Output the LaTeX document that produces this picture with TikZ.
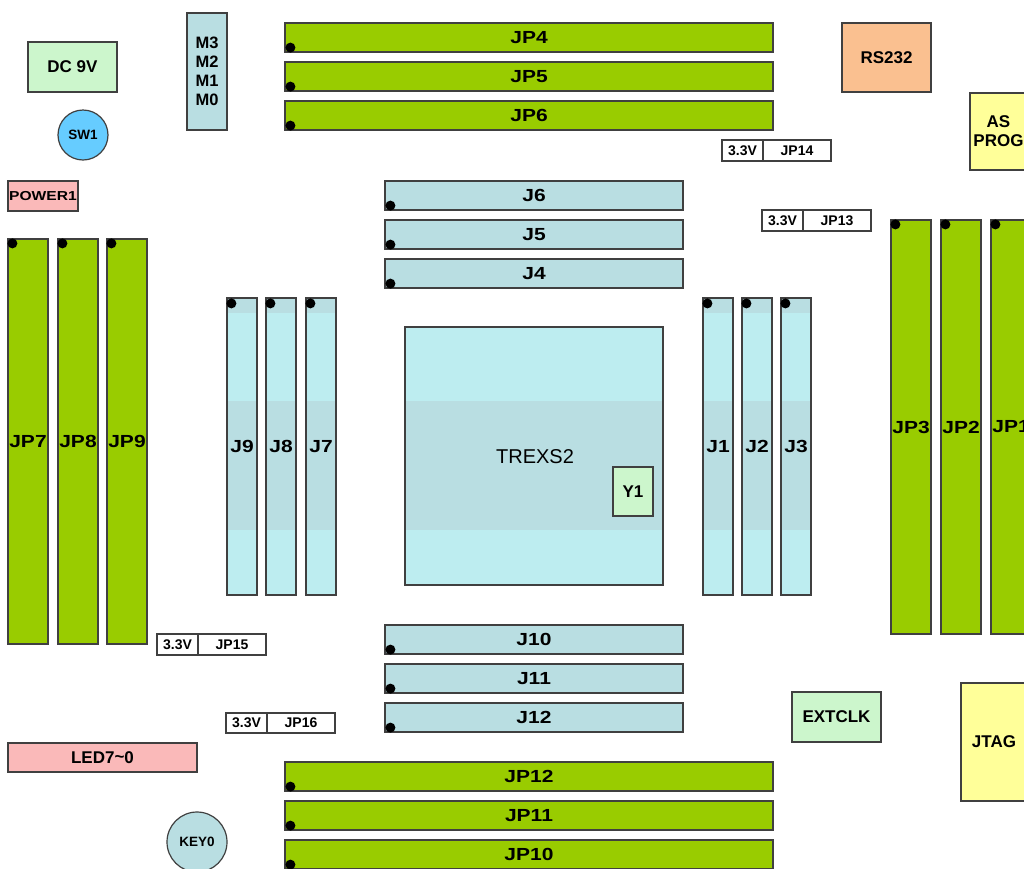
\documentclass[tikz,border=0pt]{standalone}
\usepackage{fontspec}
\setmainfont{Liberation Sans}
\newfontfamily\widesans[FakeStretch=1.2]{Liberation Sans}
\definecolor{bord}{RGB}{64,64,64}
\definecolor{pgreen}{RGB}{153,204,0}
\definecolor{jblue}{RGB}{185,222,226}
\definecolor{jcyan}{RGB}{189,237,240}
\definecolor{lgreen}{RGB}{204,246,204}
\definecolor{sky}{RGB}{102,204,255}
\definecolor{pinkc}{RGB}{250,185,185}
\definecolor{orangec}{RGB}{250,192,144}
\definecolor{yellowc}{RGB}{255,255,153}
\tikzset{
  base/.style={draw=bord, line width=1.2pt, inner sep=0pt, text=black,
    font=\bfseries\fontsize{17}{19}\selectfont, align=center},
  hdr/.style={base, font=\widesans\bfseries\fontsize{17.5}{19}\selectfont},
  gbar/.style={hdr, fill=pgreen},
  jbar/.style={hdr, fill=jblue},
  jvbar/.style={hdr},
  lgbox/.style={base, fill=lgreen},
  pinkbox/.style={base, fill=pinkc},
  yelbox/.style={base, fill=yellowc},
  orbox/.style={base, fill=orangec},
  vbox/.style={base, fill=white, font=\bfseries\fontsize{14}{16}\selectfont},
  circ/.style={base, circle, font=\bfseries\fontsize{13.5}{15}\selectfont},
  pin/.style={fill=black}
}
% name, style, x1, y1, x2, y2, text
\newcommand\partbox[7]{%
  \node[#2, minimum width={((#5)-(#3))*1pt}, minimum height={((#6)-(#4))*1pt}]
    (#1) at ({((#3)+(#5))/2},{((#4)+(#6))/2}) {#7};}
\begin{document}
\begin{tikzpicture}[x=1pt,y=-1pt]
\useasboundingbox (0,0) rectangle (1024,868);
\clip (0,0) rectangle (1024,868);
\fill[white] (0,0) rectangle (1024,868);

% top-left parts
\partbox{dc}{lgbox}{28}{42}{117}{92}{DC 9V}
\node[circ, fill=sky, minimum size=50pt] (sw1) at (83,135) {SW1};
\partbox{power}{pinkbox, font=\widesans\bfseries\fontsize{13}{14}\selectfont}{8}{181}{78}{211}{POWER1}
\partbox{mbox}{jbar, font=\bfseries\fontsize{16.5}{19}\selectfont}{187}{13}{227}{130}{M3\\M2\\M1\\M0}

% top green headers
\partbox{jp4}{gbar}{285}{23}{773}{52}{JP4}
\partbox{jp5}{gbar}{285}{62}{773}{91}{JP5}
\partbox{jp6}{gbar}{285}{101}{773}{130}{JP6}
\foreach \n in {jp4,jp5,jp6}{\fill[pin] ([xshift=6pt,yshift=5pt]\n.south west) circle (5pt);}

\partbox{rs}{orbox}{842}{23}{931}{92}{RS232}
\partbox{asprog}{yelbox}{970}{93}{1027}{170}{AS\\PROG}

\partbox{v14}{vbox}{722}{140}{763}{161}{3.3V}
\partbox{jp14}{vbox}{763}{140}{831}{161}{JP14}
\partbox{v13}{vbox}{762}{210}{803}{231}{3.3V}
\partbox{jp13}{vbox}{803}{210}{871}{231}{JP13}

% J6-J4
\partbox{j6}{jbar}{385}{181}{683}{210}{J6}
\partbox{j5}{jbar}{385}{220}{683}{249}{J5}
\partbox{j4}{jbar}{385}{259}{683}{288}{J4}
% J10-J12
\partbox{j10}{jbar}{385}{625}{683}{654}{J10}
\partbox{j11}{jbar}{385}{664}{683}{693}{J11}
\partbox{j12}{jbar}{385}{703}{683}{732}{J12}
\foreach \n in {j6,j5,j4,j10,j11,j12}{\fill[pin] ([xshift=6pt,yshift=5pt]\n.south west) circle (5pt);}

% left vertical green headers
\partbox{jp7}{gbar}{8}{239}{48}{644}{JP7}
\partbox{jp8}{gbar}{58}{239}{98}{644}{JP8}
\partbox{jp9}{gbar}{107}{239}{147}{644}{JP9}
% right vertical green headers
\partbox{jp3}{gbar}{891}{220}{931}{634}{JP3}
\partbox{jp2}{gbar}{941}{220}{981}{634}{JP2}
\partbox{jp1}{gbar}{991}{220}{1031}{634}{JP1}
\foreach \n in {jp7,jp8,jp9,jp3,jp2,jp1}{\fill[pin] ([xshift=5pt,yshift=-5pt]\n.north west) circle (5pt);}

% vertical J headers: band fills
\foreach \x in {227,266,306,703,742,781}{
  \fill[jcyan] (\x,298) rectangle (\x+30,595);
  \fill[jblue] (\x,298) rectangle (\x+30,313);
  \fill[jblue] (\x,401) rectangle (\x+30,530);
}
\partbox{j9}{jvbar}{227}{298}{257}{595}{J9}
\partbox{j8}{jvbar}{266}{298}{296}{595}{J8}
\partbox{j7}{jvbar}{306}{298}{336}{595}{J7}
\partbox{j1}{jvbar}{703}{298}{733}{595}{J1}
\partbox{j2}{jvbar}{742}{298}{772}{595}{J2}
\partbox{j3}{jvbar}{781}{298}{811}{595}{J3}
\foreach \n in {j9,j8,j7,j1,j2,j3}{\fill[pin] ([xshift=5pt,yshift=-6pt]\n.north west) circle (5pt);}

% FPGA
\fill[jcyan] (405,327) rectangle (663,585);
\fill[jblue] (405,401) rectangle (663,530);
\partbox{trexs}{base, fill=none, font=\fontsize{20}{22}\selectfont}{405}{327}{663}{585}{}
\node[font=\fontsize{20}{22}\selectfont] (trexslabel) at (535,457) {TREXS2};
\partbox{y1}{lgbox}{613}{467}{653}{516}{Y1}

% lower-left
\partbox{v15}{vbox}{157}{634}{198}{655}{3.3V}
\partbox{jp15}{vbox}{198}{634}{266}{655}{JP15}
\partbox{v16}{vbox}{226}{713}{267}{733}{3.3V}
\partbox{jp16}{vbox}{267}{713}{335}{733}{JP16}
\partbox{led}{pinkbox}{8}{743}{197}{772}{LED7\raisebox{0.12ex}{\char`\~}0}
\node[circ, fill=jblue, minimum size=60pt] (key0) at (197,842) {KEY0};

% bottom green headers
\partbox{jp12}{gbar}{285}{762}{773}{791}{JP12}
\partbox{jp11}{gbar}{285}{801}{773}{830}{JP11}
\partbox{jp10}{gbar}{285}{840}{773}{869}{JP10}
\foreach \n in {jp12,jp11,jp10}{\fill[pin] ([xshift=6pt,yshift=5pt]\n.south west) circle (5pt);}

% lower-right
\partbox{extclk}{lgbox}{792}{692}{881}{742}{EXTCLK}
\partbox{jtag}{yelbox}{961}{683}{1027}{801}{JTAG}
\end{tikzpicture}
\end{document}
